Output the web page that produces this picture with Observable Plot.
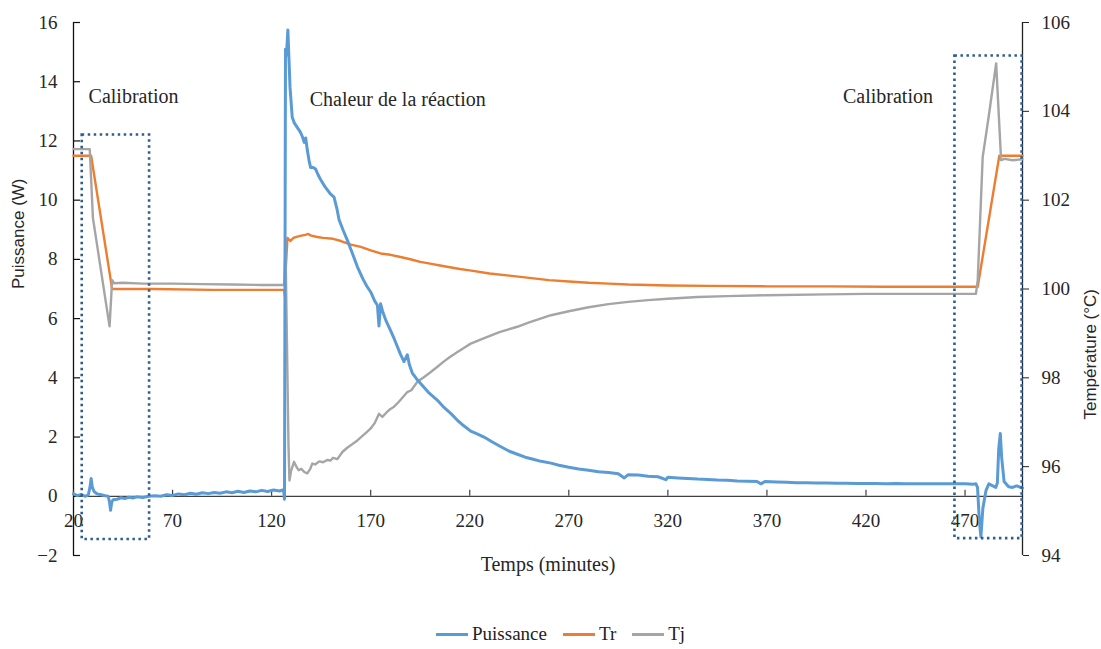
<!DOCTYPE html>
<html><head><meta charset="utf-8">
<script src="https://cdn.jsdelivr.net/npm/d3@7"></script>
<script src="https://cdn.jsdelivr.net/npm/@observablehq/plot@0.6"></script>
<style>
body{margin:0;background:#fff;}
#wrap{position:relative;width:1101px;height:649px;overflow:hidden;background:#fff;}
#legend{position:absolute;left:436px;top:622px;height:24px;display:flex;align-items:center;font-family:"Liberation Serif",serif;font-size:19px;line-height:22px;color:#222;white-space:nowrap;}
#legend .item{display:flex;align-items:center;margin-right:16px;}
#legend .sw{display:inline-block;width:32px;height:0;border-top:3px solid;margin-right:4px;}
</style></head>
<body><div id="wrap"><div id="chart"></div><div id="legend"></div></div>
<script>
// ---- data ----
const seriesNames = ["Puissance", "Tr", "Tj"];
const seriesColors = ["#5B9BD5", "#ED7D31", "#A5A5A5"];

const puissanceTime = [20,22,24,26,27.5,28.3,28.9,29.5,30.5,32,34,36,37.5,38.2,38.7,39.3,40,42,44,46,48,50,52,55,58,61,64,67,70,73,76,79,82,85,88,91,94,97,100,103,106,109,112,115,118,121,124,126,126.5,127,127.5,128.2,129.3,130.4,131.5,133,134.5,135.5,136.5,137.2,138,139,139.7,141,142.2,143.5,144.7,147,149.8,151.5,153,154,156,158.2,160.5,163.3,166,168,170,172,173.4,174.2,175,176,177.6,180,181.8,183.5,185,186.8,188.5,189.5,191.1,193,195.3,199,203.7,207,210.4,214,217,220.5,224,227.2,231,235,240,244,248,252,256,261,265,270,275,280,285,290,295,298,300,305,310,315,319,320,325,330,335,340,345,350,355,360,365,367,369,375,380,385,390,395,400,405,410,415,420,425,430,435,440,445,450,455,460,465,470,474,475.5,476.3,477.2,478,479,480.6,482,484,485.5,486.3,487,487.8,488.5,489.7,492,494,496,499];
const puissanceValue = [0.08,0.02,0.06,0.0,0.05,0.3,0.6,0.3,0.15,0.08,0.05,0.02,0.0,-0.2,-0.47,-0.2,-0.12,-0.1,-0.05,-0.08,-0.03,-0.06,-0.02,-0.04,0.0,0.02,0.0,0.05,0.03,0.08,0.05,0.1,0.07,0.12,0.09,0.13,0.1,0.15,0.12,0.17,0.13,0.18,0.15,0.2,0.16,0.21,0.18,0.22,-0.1,15.1,14.9,15.75,13.8,12.8,12.6,12.45,12.3,12.15,11.95,12.1,11.7,11.3,11.1,11.1,11.05,10.85,10.7,10.45,10.2,10.1,9.7,9.35,9.0,8.65,8.25,7.75,7.35,7.1,6.9,6.6,6.45,5.75,6.5,6.25,5.95,5.6,5.33,5.05,4.8,4.55,4.78,4.45,4.15,3.98,3.8,3.52,3.24,3.0,2.8,2.55,2.38,2.2,2.1,2.0,1.85,1.7,1.52,1.42,1.32,1.25,1.18,1.12,1.05,0.98,0.92,0.88,0.83,0.8,0.76,0.62,0.73,0.72,0.68,0.66,0.56,0.64,0.62,0.6,0.58,0.57,0.55,0.54,0.52,0.51,0.5,0.42,0.5,0.48,0.47,0.46,0.46,0.45,0.45,0.44,0.44,0.43,0.43,0.43,0.42,0.43,0.42,0.42,0.42,0.42,0.42,0.42,0.42,0.41,0.42,0.3,-0.8,-1.37,-0.4,0.2,0.42,0.35,0.3,0.45,1.6,2.12,1.3,0.5,0.32,0.3,0.35,0.28,0.32];

const trTime = [20,28.9,39.5,60,90,120,126.3,126.8,127.2,128,129.5,131,133,135,137,138.5,140,143,146,151,155,160,165,170,175,180,185,190,195,200,205,210,215,220,230,240,250,260,270,280,290,300,320,340,370,400,430,460,476.4,487.3,499];
const trValue = [103.0,103.0,100.0,100.0,99.98,99.98,99.98,99.82,100.5,101.15,101.08,101.15,101.18,101.2,101.22,101.24,101.2,101.17,101.15,101.13,101.08,101.0,100.95,100.87,100.8,100.77,100.72,100.67,100.61,100.57,100.53,100.49,100.45,100.42,100.35,100.3,100.25,100.2,100.17,100.14,100.12,100.1,100.08,100.07,100.06,100.06,100.05,100.05,100.05,103.0,103.0];

const tjTime = [20,28.2,29.8,38.2,39.5,40.5,45,55,70,85,100,115,126.3,127,128.5,129,129.8,131.3,132.5,133.6,135,136.5,138,139.5,140.5,142,144,146,148,149.8,151,153.2,155.7,158,160.5,163.3,166,168,170,172,174.2,175.9,178,180,181.8,184,186,188.5,190.5,193.6,197,200,203.7,207,210,213.8,217,220.5,227,235,244,250,261,270,280,290,300,310,320,335,350,370,400,420,440,460,475.5,476.4,478.9,482,485.7,488.2,490,494,499];
const tjValue = [103.15,103.15,101.6,99.16,100.2,100.13,100.14,100.12,100.12,100.11,100.1,100.09,100.09,101.0,96.5,95.69,95.9,96.11,96.0,95.92,95.95,95.88,95.85,95.95,96.07,96.05,96.12,96.1,96.15,96.14,96.2,96.17,96.33,96.42,96.5,96.59,96.7,96.78,96.86,96.98,97.19,97.12,97.22,97.3,97.35,97.45,97.55,97.68,97.72,97.91,98.02,98.12,98.25,98.37,98.47,98.58,98.67,98.77,98.89,99.03,99.15,99.25,99.41,99.5,99.59,99.66,99.71,99.75,99.78,99.82,99.84,99.86,99.88,99.89,99.89,99.89,99.89,100.2,102.97,103.9,105.08,102.9,102.93,102.9,102.92];

const xTicks = [20,70,120,170,220,270,320,370,420,470];
const leftTicks = [-2,0,2,4,6,8,10,12,14,16];
const rightTicks = [94,96,98,100,102,104,106];

const boxStart = [24.4, 464.9];
const boxEnd = [58.4, 498.8];
const boxTop = [12.2, 14.87];
const boxBottom = [-1.46, -1.43];

const noteText = ["Calibration", "Chaleur de la réaction", "Calibration"];
const noteTime = [27.6, 139.2, 408.4];
const noteValue = [13.5, 13.4, 13.5];

const xLabel = "Temps (minutes)";
const yLabel = "Puissance (W)";
const y2Label = "Température (°C)";

// ---- chart ----
const W = 1101, H = 600;
const mL = 73, mR = 79, mT = 22, mB = 45;
const xDomain = [20, 499];
const yDomain = [-2, 16];
const tDomain = [94, 106];
const toP = T => yDomain[0] + (T - tDomain[0]) * (yDomain[1] - yDomain[0]) / (tDomain[1] - tDomain[0]);
const fromP = P => tDomain[0] + (P - yDomain[0]) * (tDomain[1] - tDomain[0]) / (yDomain[1] - yDomain[0]);
const pxX = (xDomain[1] - xDomain[0]) / (W - mL - mR);
const pxY = (yDomain[1] - yDomain[0]) / (H - mT - mB);

const pRows = puissanceTime.map((t, i) => ({t, v: puissanceValue[i]}));
const trRows = trTime.map((t, i) => ({t, v: toP(trValue[i])}));
const tjRows = tjTime.map((t, i) => ({t, v: toP(tjValue[i])}));
const boxes = boxStart.map((s, i) => ({x1: s, x2: boxEnd[i], y1: boxBottom[i], y2: boxTop[i]}));
const notes = noteText.map((s, i) => ({s, t: noteTime[i], v: noteValue[i]}));

const serif = "Liberation Serif, serif";
const sans = "Liberation Sans, Arial, sans-serif";

const chart = Plot.plot({
  width: W, height: H,
  marginLeft: mL, marginRight: mR, marginTop: mT, marginBottom: mB,
  x: {domain: xDomain, axis: null},
  y: {domain: yDomain, axis: null},
  style: {fontFamily: serif, fontSize: "19px", color: "#262626", background: "#fff"},
  marks: [
    Plot.ruleY([0], {stroke: "#404040", strokeWidth: 1.3}),
    Plot.ruleX([xDomain[0]], {stroke: "#111", strokeWidth: 1.3}),
    Plot.ruleX([xDomain[1]], {stroke: "#222", strokeWidth: 1.3}),
    Plot.ruleX(xTicks, {x: d => d, y1: 0, y2: 6 * pxY, stroke: "#404040", strokeWidth: 1.2}),
    Plot.ruleY(leftTicks, {y: d => d, x1: xDomain[0], x2: xDomain[0] + 7 * pxX, stroke: "#111", strokeWidth: 1.2}),
    Plot.text(xTicks, {x: d => d, y: 0, dy: 25, text: d => String(d), fontSize: 19, fontFamily: serif, fill: "#262626", textAnchor: "middle"}),
    Plot.axisY(leftTicks, {anchor: "left", tickSize: 0, tickPadding: 16, label: null, fontSize: 19, fontFamily: serif, fill: "#262626"}),
    Plot.axisY(rightTicks.map(toP), {anchor: "right", tickSize: 6, tickPadding: 13, label: null, tickFormat: p => String(Math.round(fromP(p))), fontSize: 19, fontFamily: serif, fill: "#262626", stroke: "#222"}),
    Plot.text([xLabel], {frameAnchor: "bottom", dy: 15, text: d => d, fontSize: 20, fontFamily: serif, fill: "#262626"}),
    Plot.text([yLabel], {frameAnchor: "left", dx: -55, rotate: -90, text: d => d, fontSize: 17, fontFamily: sans, fill: "#262626"}),
    Plot.text([y2Label], {frameAnchor: "right", dx: 68, rotate: -90, text: d => d, fontSize: 17, fontFamily: sans, fill: "#262626"}),
    Plot.line(trRows, {x: "t", y: "v", stroke: seriesColors[1], strokeWidth: 2.4}),
    Plot.line(tjRows, {x: "t", y: "v", stroke: seriesColors[2], strokeWidth: 2.4}),
    Plot.line(pRows, {x: "t", y: "v", stroke: seriesColors[0], strokeWidth: 3}),
    Plot.rect(boxes, {x1: "x1", x2: "x2", y1: "y1", y2: "y2", fill: "none", stroke: "#2E5E8E", strokeWidth: 2.6, strokeDasharray: "2.5,3.5"}),
    Plot.text(notes, {x: "t", y: "v", text: "s", textAnchor: "start", fontSize: 20, fontFamily: serif, fill: "#262626"})
  ]
});
document.getElementById("chart").appendChild(chart);

const legend = document.getElementById("legend");
seriesNames.forEach((n, i) => {
  const it = document.createElement("div");
  it.className = "item";
  const sw = document.createElement("span");
  sw.className = "sw";
  sw.style.borderTopColor = seriesColors[i];
  const tx = document.createElement("span");
  tx.textContent = n;
  it.appendChild(sw); it.appendChild(tx);
  legend.appendChild(it);
});
</script>
</body></html>
